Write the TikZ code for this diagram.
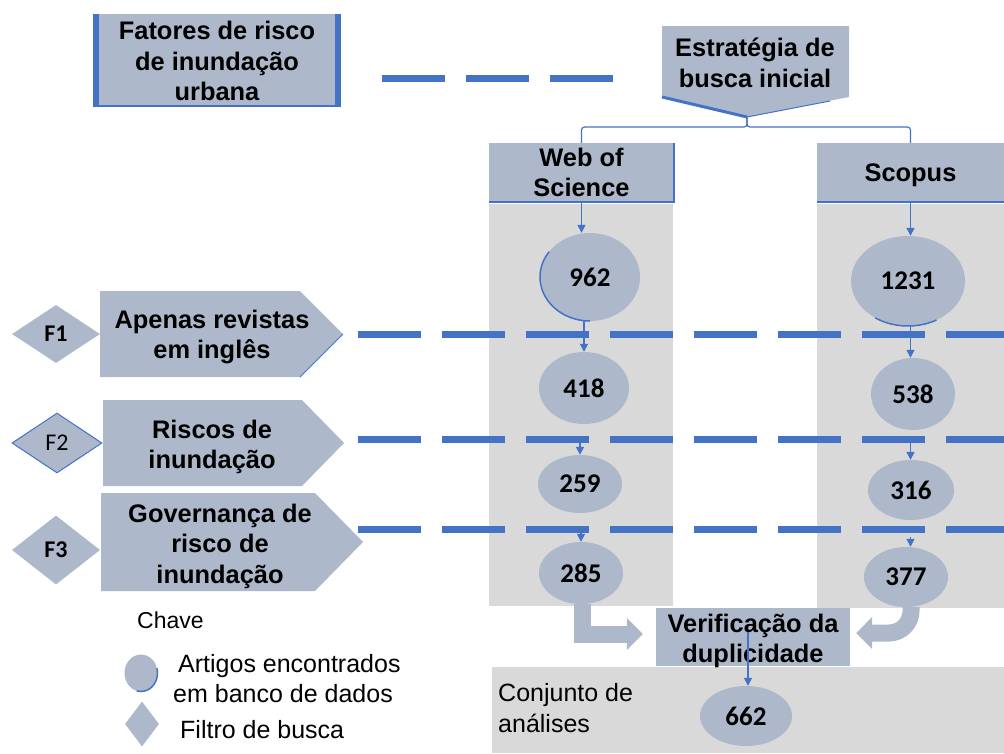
\documentclass[tikz,border=0pt]{standalone}
\usepackage{fontspec}
\setmainfont{Liberation Sans}
\newfontfamily\numfont{Carlito}
\usetikzlibrary{shapes.geometric,arrows.meta}
\definecolor{bg}{HTML}{ADB9CA}
\definecolor{panel}{HTML}{D9D9D9}
\definecolor{blu}{HTML}{4472C4}
\begin{document}
\begin{tikzpicture}[x=1pt,y=-1pt,
 lbl/.style={font=\fontsize{25.4}{30.5}\selectfont\bfseries, align=center, inner sep=0pt, text=black},
 boxn/.style={rectangle, fill=bg, inner sep=0pt, lbl},
 num/.style={ellipse, fill=bg, inner sep=0pt, font=\numfont\fontsize{27}{30}\selectfont\bfseries},
 reg/.style={font=\fontsize{25}{30}\selectfont, inner sep=0pt, anchor=base west},
 arr/.style={blu, line width=1.4pt, -{Triangle[length=8pt,width=8pt]}},
 dashline/.style={blu, line width=7pt, dash pattern=on 63pt off 21pt},
 bigarr/.style={bg, line width=17pt, -{Triangle[length=16pt,width=31pt]}},
 filt/.style={diamond, fill=bg, inner sep=0pt, font=\numfont\fontsize{24}{28}\selectfont\bfseries},
 brk/.style={blu, line width=1.2pt, rounded corners=3pt}
]
\fill[white] (0,0) rectangle (1004,753);
\useasboundingbox (0,0) rectangle (1004,753);

% gray panels
\fill[panel] (489,204) rectangle (673,606);
\fill[panel] (817,204) rectangle (1004,608);
\fill[panel] (492,667) rectangle (1004,753);

% title box
\fill[bg] (93,14) rectangle (341,107);
\draw[blu, line width=6pt] (96,14) -- (96,107);
\draw[blu, line width=6pt] (338,14) -- (338,107);
\draw[blu, line width=2pt] (93,106) -- (341,106);
\node[lbl] (fatores) at (217,61) {Fatores de risco\\de inundação\\urbana};

% strategy pentagon
\fill[bg] (662,26) -- (849,26) -- (849,97) -- (747,117) -- (662,97) -- cycle;
\draw[blu, line width=3pt] (662,97) -- (747,117);
\draw[blu, line width=1pt] (830,101) -- (747,117);
\coordinate (strattip) at (747,117);
\node[lbl] (strat) at (755,63) {Estratégia de\\busca inicial};

% top dashed line
\coordinate (tdA) at (382,78);
\coordinate (tdB) at (613,78);
\draw[dashline] (tdA) -- (tdB);

% database boxes
\node[boxn, minimum width=185pt, minimum height=59pt] (wos) at (581.5,172.5) {Web of\\Science};
\draw[blu, line width=1.5pt] (wos.north east) -- (wos.south east) -- (wos.south west);
\node[boxn, minimum width=187pt, minimum height=59pt, text depth=0pt] (scopus) at (910.5,172.5) {Scopus};
\draw[blu, line width=1.5pt] (scopus.south west) -- (scopus.south east);

\draw[brk] (strattip) -- (747,127) -| (wos.north);
\draw[brk] (strattip) -- (747,127) -| (scopus.north);

% filter pentagons
\fill[bg] (100,291) -- (300,291) -- (343,334) -- (300,377) -- (100,377) -- cycle;
\draw[blu, line width=0.8pt] (343,334) -- (300,377);
\node[lbl] (p1) at (212,337) {Apenas revistas\\em inglês};
\fill[bg] (103,400) -- (302,400) -- (344,443) -- (302,486) -- (103,486) -- cycle;
\node[lbl] (p2) at (212,447) {Riscos de\\inundação};
\fill[bg] (101,493) -- (315,493) -- (363,542) -- (315,591) -- (101,591) -- cycle;
\node[lbl] (p3) at (220,546) {Governança de\\risco de\\inundação};

% filter diamonds
\node[filt, minimum width=88pt, minimum height=58pt] (F1) at (56,334) {F1};
\node[filt, draw=blu, line width=1pt, minimum width=90pt, minimum height=60pt, font=\numfont\fontsize{24}{28}\selectfont] (F2) at (57,443) {F2};
\node[filt, minimum width=88pt, minimum height=69pt] (F3) at (56,550) {F3};

% count ellipses
\node[num, minimum width=100pt, minimum height=88pt] (e962) at (590,277) {962};
\draw[blu, line width=1.5pt] ([shift={(215:50 and 44)}]e962.center) arc[start angle=215, end angle=90, x radius=50, y radius=44];
\node[num, minimum width=114pt, minimum height=90pt] (e1231) at (908,281) {1231};
\draw[blu, line width=1.5pt] ([shift={(60:57 and 45)}]e1231.center) arc[start angle=60, end angle=125, x radius=57, y radius=45];
\node[num, minimum width=90pt, minimum height=72pt] (e418) at (584,388) {418};
\node[num, minimum width=84pt, minimum height=72pt] (e538) at (913,394) {538};
\node[num, minimum width=84pt, minimum height=58pt] (e259) at (580,484) {259};
\node[num, minimum width=86pt, minimum height=60pt] (e316) at (911,490) {316};
\node[num, minimum width=84pt, minimum height=62pt] (e285) at (581,573) {285};
\node[num, minimum width=84pt, minimum height=60pt] (e377) at (906,577) {377};

% dashed filter lines
\coordinate (d1a) at (358,334); \coordinate (d1b) at (1004,334);
\coordinate (d2a) at (358,439); \coordinate (d2b) at (1004,439);
\coordinate (d3a) at (358,529); \coordinate (d3b) at (1004,529);
\draw[dashline] (d1a) -- (d1b);
\draw[dashline] (d2a) -- (d2b);
\draw[dashline] (d3a) -- (d3b);

% thin arrows
\draw[arr] (wos.south) -- (wos.south |- e962.north);
\draw[arr] (e418.north |- e962.south) -- (e418.north);
\draw[arr] ([yshift=-13pt]e418.south -| e259.north) -- (e259.north);
\draw[arr] ([yshift=-15pt]e259.south -| e285.north) -- (e285.north);
\draw[arr] (scopus.south) -- (scopus.south |- e1231.north);
\draw[arr] (scopus.south |- e1231.south) -- (scopus.south |- e538.north);
\draw[arr] ([yshift=-13pt]e538.south -| scopus.south) -- (scopus.south |- e316.north);
\draw[arr] ([yshift=-17pt]e316.south -| scopus.south) -- (scopus.south |- e377.north);

% duplicate check
\node[boxn, minimum width=194pt, minimum height=58pt] (verif) at (753,637) {};
\node[lbl] (veriftxt) at (753,641) {Verificação da\\duplicidade};
\draw[bigarr, line join=miter] ([xshift=1pt]e285.south) |- ([xshift=-13pt,yshift=3pt]verif.west);
\draw[bigarr, rounded corners=22pt] ([xshift=5pt]e377.south) |- ([xshift=6pt,yshift=4pt]verif.east);

\node[num, minimum width=92pt, minimum height=60pt] (e662) at (746,716) {662};
\draw[arr] ([yshift=5pt,xshift=-5pt]verif.center) -- ([xshift=2pt]e662.north);

\node[font=\fontsize{25}{31}\selectfont, align=left, anchor=west, inner sep=0pt] (conj) at (498,708) {Conjunto de\\análises};

% legend
\node[reg, font=\fontsize{23}{28}\selectfont] (chave) at (137,628) {Chave};
\node[ellipse, fill=bg, inner sep=0pt, minimum width=33pt, minimum height=37pt] (legE) at (141,673) {};
\draw[blu, line width=1.5pt] ([shift={(-15:16.5 and 18.5)}]legE.center) arc[start angle=-15, end angle=105, x radius=16.5, y radius=18.5];
\node[reg] (leg1) at (178,672) {Artigos encontrados};
\node[reg] (leg2) at (173,702) {em banco de dados};
\node[diamond, fill=bg, inner sep=0pt, minimum width=34pt, minimum height=45pt] (legD) at (142,724) {};
\node[reg] (leg3) at (180,738) {Filtro de busca};
\end{tikzpicture}
\end{document}
